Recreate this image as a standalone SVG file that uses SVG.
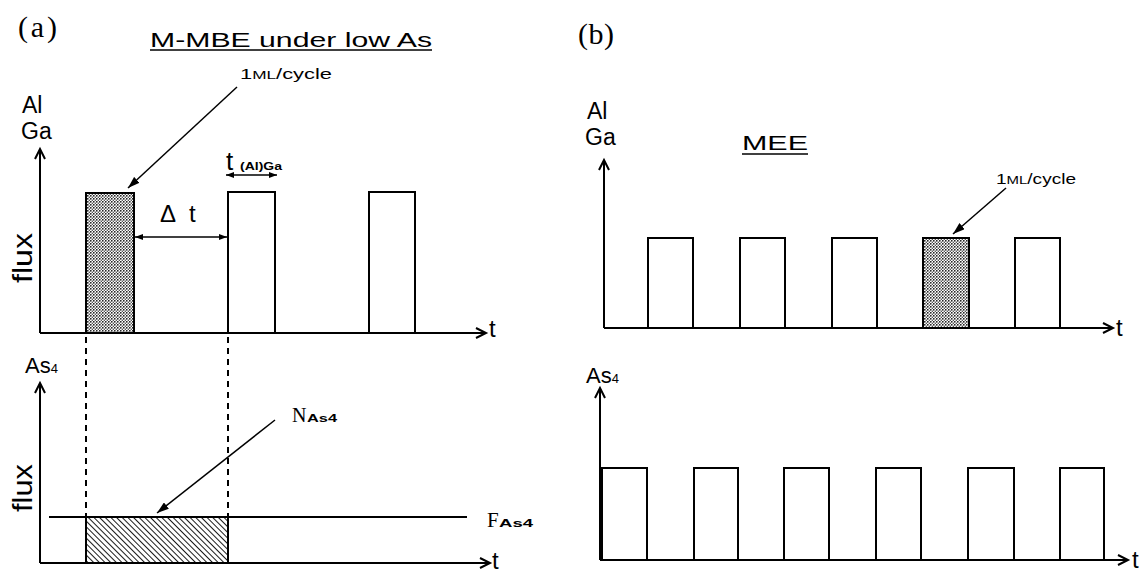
<svg xmlns="http://www.w3.org/2000/svg" width="1148" height="574" viewBox="0 0 1148 574">
<style>
.ln{stroke:#000;stroke-width:2;fill:none}
.bx{stroke:#000;stroke-width:2}
.thin{stroke:#000;stroke-width:1.5;fill:none}
.dash{stroke:#000;stroke-width:2;stroke-dasharray:6 5;fill:none}
.sans{font-family:"Liberation Sans",Arial,sans-serif;fill:#000}
.serif{font-family:"Liberation Serif","Times New Roman",serif;fill:#000}
.sub{font-family:"Liberation Sans",Arial,sans-serif;font-weight:bold;font-size:11px;fill:#000}
</style>
<defs>
<pattern id="dots" patternUnits="userSpaceOnUse" width="3" height="3">
<rect width="3" height="3" fill="#fff"/>
<circle cx="0.8" cy="0.8" r="0.85" fill="#111"/>
<circle cx="2.3" cy="2.3" r="0.7" fill="#333"/>
</pattern>
<pattern id="hatch" patternUnits="userSpaceOnUse" width="4" height="4" patternTransform="rotate(-45)">
<rect width="4" height="4" fill="#fff"/>
<line x1="0" y1="0" x2="0" y2="4" stroke="#000" stroke-width="1.8"/>
</pattern>
<marker id="axis" markerUnits="userSpaceOnUse" markerWidth="14" markerHeight="14" refX="11" refY="6" orient="auto" viewBox="0 0 14 12">
<path d="M1,1 L11,6 L1,11" fill="none" stroke="#000" stroke-width="2"/>
</marker>
<marker id="ptr" markerUnits="userSpaceOnUse" markerWidth="12" markerHeight="8" refX="12" refY="4" orient="auto" viewBox="0 0 12 8">
<path d="M0,0 L12,4 L0,8 z" fill="#000"/>
</marker>
<marker id="sm" markerUnits="userSpaceOnUse" markerWidth="8" markerHeight="6" refX="8" refY="3" orient="auto-start-reverse" viewBox="0 0 8 6">
<path d="M0,0 L8,3 L0,6 z" fill="#000"/>
</marker>
</defs>

<!-- Panel (a) labels -->
<g id="label-a"><text class="serif" x="18" y="37" font-size="30" textLength="39" lengthAdjust="spacing">(a)</text></g>
<g id="title-a">
<text class="sans" x="150" y="47" font-size="21" textLength="282" lengthAdjust="spacingAndGlyphs">M-MBE under low As</text>
<line x1="150" y1="50" x2="432" y2="50" stroke="#000" stroke-width="1.5"/>
</g>

<!-- Panel (a) upper plot -->
<g id="a-upper-axis-label">
<text class="sans" x="22" y="113" font-size="23">Al</text>
<text class="sans" x="21" y="139" font-size="23">Ga</text>
<text class="sans" font-size="27" text-anchor="middle" transform="translate(32,258) rotate(-90)" textLength="50" lengthAdjust="spacingAndGlyphs">flux</text>
</g>
<g id="a-pulse-1"><rect class="bx" x="86" y="193" width="48" height="140" fill="url(#dots)"/></g>
<g id="a-pulse-2"><rect class="bx" x="228" y="192" width="47" height="141" fill="#fff"/></g>
<g id="a-pulse-3"><rect class="bx" x="369" y="192" width="46" height="141" fill="#fff"/></g>
<g id="a-ml-label"><text class="sans" x="240" y="79" font-size="14" textLength="92" lengthAdjust="spacingAndGlyphs">1<tspan font-size="11">ML</tspan>/cycle</text></g>
<g id="a-tga-label">
<text class="sans" x="226" y="170" font-size="26">t</text>
<text class="sub" x="240" y="170" textLength="42" lengthAdjust="spacingAndGlyphs">(Al)Ga</text>
</g>
<g id="a-dt-label"><text class="sans" x="160" y="222" font-size="24">Δ<tspan x="189">t</tspan></text></g>

<!-- Panel (a) lower plot -->
<g id="a-lower-axis-label">
<text class="sans" x="25" y="373" font-size="22">As<tspan font-size="13">4</tspan></text>
<text class="sans" font-size="27" text-anchor="middle" transform="translate(32,488) rotate(-90)" textLength="48" lengthAdjust="spacingAndGlyphs">flux</text>
</g>
<g id="a-nas4"><rect x="86" y="517" width="142" height="46" fill="url(#hatch)" stroke="#000" stroke-width="2"/></g>
<g id="a-nas4-label">
<text class="serif" x="292" y="422" font-size="20">N</text>
<text class="sub" x="307" y="422" textLength="30" lengthAdjust="spacingAndGlyphs">As4</text>
</g>
<g id="a-fas4-label">
<text class="serif" x="487" y="527" font-size="21">F</text>
<text class="sub" x="499" y="527" textLength="34" lengthAdjust="spacingAndGlyphs">As4</text>
</g>
<g id="a-t-labels">
<text class="sans" x="489" y="337" font-size="24">t</text>
<text class="sans" x="492" y="569" font-size="24">t</text>
</g>

<!-- Panel (b) labels -->
<g id="label-b"><text class="serif" x="578" y="44" font-size="30" textLength="36" lengthAdjust="spacing">(b)</text></g>
<g id="title-b">
<text class="sans" x="742" y="150" font-size="21" textLength="66" lengthAdjust="spacingAndGlyphs">MEE</text>
<line x1="742" y1="154" x2="808" y2="154" stroke="#000" stroke-width="1.5"/>
</g>
<g id="b-upper-axis-label">
<text class="sans" x="587" y="119" font-size="23">Al</text>
<text class="sans" x="585" y="145" font-size="23">Ga</text>
</g>
<g id="b-pulse-1"><rect class="bx" x="648" y="238" width="45" height="90" fill="#fff"/></g>
<g id="b-pulse-2"><rect class="bx" x="740" y="238" width="45" height="90" fill="#fff"/></g>
<g id="b-pulse-3"><rect class="bx" x="832" y="238" width="45" height="90" fill="#fff"/></g>
<g id="b-pulse-4"><rect class="bx" x="923" y="238" width="46" height="90" fill="url(#dots)"/></g>
<g id="b-pulse-5"><rect class="bx" x="1015" y="238" width="45" height="90" fill="#fff"/></g>
<g id="b-ml-label"><text class="sans" x="996" y="184" font-size="14" textLength="80" lengthAdjust="spacingAndGlyphs">1<tspan font-size="11">ML</tspan>/cycle</text></g>

<g id="b-lower-axis-label"><text class="sans" x="586" y="383" font-size="22">As<tspan font-size="13">4</tspan></text></g>
<g id="b-as-1"><rect class="bx" x="602" y="468" width="45" height="92" fill="#fff"/></g>
<g id="b-as-2"><rect class="bx" x="694" y="468" width="44" height="92" fill="#fff"/></g>
<g id="b-as-3"><rect class="bx" x="784" y="468" width="45" height="92" fill="#fff"/></g>
<g id="b-as-4"><rect class="bx" x="876" y="468" width="45" height="92" fill="#fff"/></g>
<g id="b-as-5"><rect class="bx" x="968" y="468" width="46" height="92" fill="#fff"/></g>
<g id="b-as-6"><rect class="bx" x="1060" y="468" width="44" height="92" fill="#fff"/></g>
<g id="b-t-labels">
<text class="sans" x="1116" y="336" font-size="24">t</text>
<text class="sans" x="1132" y="568" font-size="24">t</text>
</g>

<!-- Connectors: axes, arrows, guide lines -->
<g id="connectors">
<line class="ln" x1="40" y1="333" x2="40" y2="149" marker-end="url(#axis)"/>
<line class="ln" x1="40" y1="333" x2="486" y2="333" marker-end="url(#axis)"/>
<line class="ln" x1="40" y1="563" x2="40" y2="383" marker-end="url(#axis)"/>
<line class="ln" x1="40" y1="563" x2="490" y2="563" marker-end="url(#axis)"/>
<line class="ln" x1="49" y1="517" x2="467" y2="517"/>
<line class="dash" x1="86" y1="337" x2="86" y2="517"/>
<line class="dash" x1="228" y1="337" x2="228" y2="517"/>
<line class="thin" x1="237" y1="87" x2="128" y2="188" marker-end="url(#ptr)"/>
<line class="thin" x1="275" y1="420" x2="157" y2="513" marker-end="url(#ptr)"/>
<line class="thin" x1="135" y1="237" x2="227" y2="237" marker-start="url(#sm)" marker-end="url(#sm)"/>
<line class="thin" x1="226" y1="175" x2="277" y2="175" marker-start="url(#sm)" marker-end="url(#sm)"/>
<line class="ln" x1="604" y1="328" x2="604" y2="160" marker-end="url(#axis)"/>
<line class="ln" x1="604" y1="328" x2="1113" y2="328" marker-end="url(#axis)"/>
<line class="ln" x1="600" y1="560" x2="600" y2="388" marker-end="url(#axis)"/>
<line class="ln" x1="600" y1="560" x2="1128" y2="560" marker-end="url(#axis)"/>
<line class="thin" x1="1006" y1="188" x2="953" y2="234" marker-end="url(#ptr)"/>
</g>
</svg>
